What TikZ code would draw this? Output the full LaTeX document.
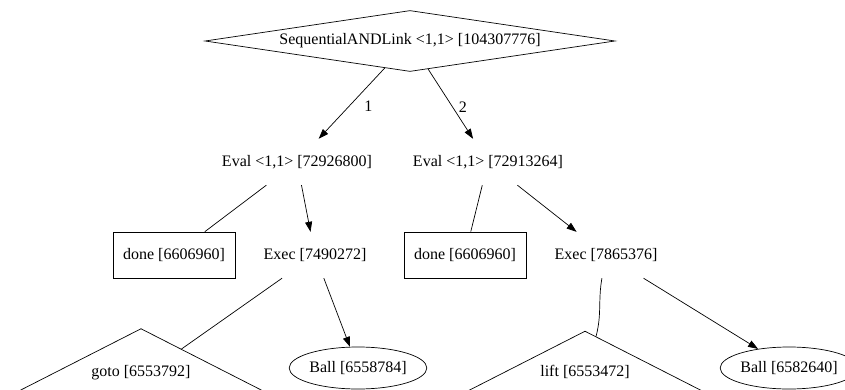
\documentclass[tikz,border=0pt]{standalone}
\usepackage{fontspec}
\setmainfont{Liberation Serif}
\usetikzlibrary{arrows.meta,positioning,shapes}

\begin{document}
\begin{tikzpicture}[x=1pt,y=1pt,
  every node/.style={font=\fontsize{16}{19}\selectfont},
  plain/.style={inner xsep=8pt, inner ysep=0pt, minimum height=46pt},
  box/.style={draw, line width=0.7pt, inner sep=0pt, minimum width=122pt, minimum height=46pt},
  oval/.style={draw, line width=0.7pt, ellipse, inner sep=0pt, minimum width=130pt, minimum height=42pt},
  tri/.style={draw, line width=0.7pt, isosceles triangle, shape border rotate=90,
    isosceles triangle apex angle=126, inner sep=0pt, text height=22pt, text depth=25pt, anchor=base},
  link/.style={line width=0.7pt},
  arr/.style={link, -{Triangle[length=10pt,width=7pt]}},
  lab/.style={inner sep=0pt}]
  \useasboundingbox (0,0) rectangle (845,389);
  \node [draw, line width=0.7pt, diamond, aspect=6.7, inner sep=0pt, minimum width=410pt, minimum height=61pt]
    (seq) at (410,348) {SequentialANDLink <1,1> [104307776]};
  \node [plain] (evall) at (297,227) {Eval <1,1> [72926800]};
  \node [plain] (evalr) at (488,227) {Eval <1,1> [72913264]};
  \node [box] (donel) at (174,134) {done [6606960]};
  \node [plain] (execl) at (315,134) {Exec [7490272]};
  \node [box] (doner) at (465,134) {done [6606960]};
  \node [plain] (execr) at (606,134) {Exec [7865376]};
  \node [tri] (goto) at (141,13) {goto [6553792]};
  \node [oval] (balll) at (358,21) {Ball [6558784]};
  \node [tri] (lift) at (585,13) {lift [6553472]};
  \node [oval] (ballr) at (789,21) {Ball [6582640]};
  \draw [arr] (seq) -- node [lab, pos=0.54, right=15pt] {1} (evall);
  \draw [arr] (seq) -- node [lab, pos=0.54, right=6pt] {2} (evalr);
  \draw [link] (evall) -- (donel);
  \draw [arr] (evall) -- (execl);
  \draw [link] (evalr) -- (doner);
  \draw [arr] (evalr) -- (execr);
  \draw [link] (execl) -- (goto);
  \draw [arr] (execl) -- (balll);
  \draw [link, out=-100, in=75] (execr) to (lift);
  \draw [arr] (execr) -- (ballr);
\end{tikzpicture}
\end{document}
